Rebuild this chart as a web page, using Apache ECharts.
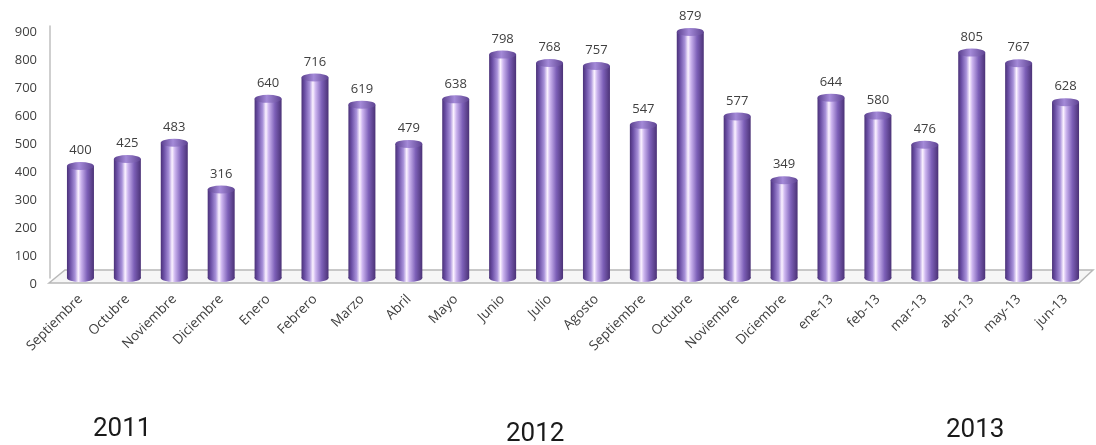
<!DOCTYPE html>
<html>
<head>
<meta charset="utf-8">
<script src="https://cdn.jsdelivr.net/npm/echarts@6/dist/echarts.min.js"></script>
<style>html,body{margin:0;padding:0;background:#fff;}#chart{width:1096px;height:445px;}</style>
</head>
<body>
<div id="chart"></div>
<script>
const categories = ['Septiembre','Octubre','Noviembre','Diciembre','Enero','Febrero','Marzo','Abril','Mayo','Junio','Julio','Agosto','Septiembre','Octubre','Noviembre','Diciembre','ene-13','feb-13','mar-13','abr-13','may-13','jun-13'];
const values = [400,425,483,316,640,716,619,479,638,798,768,757,547,879,577,349,644,580,476,805,767,628];
const yearLabels = ['2011','2012','2013'];
const yTicks = [0,100,200,300,400,500,600,700,800,900];

const chart = echarts.init(document.getElementById('chart'), null, {renderer:'canvas'});
const barGrad = new echarts.graphic.LinearGradient(0,0,1,0,[
  {offset:0, color:'#4a3178'},
  {offset:0.12, color:'#6c50a6'},
  {offset:0.3, color:'#a992da'},
  {offset:0.42, color:'#fbf2ff'},
  {offset:0.52, color:'#cdb6ef'},
  {offset:0.75, color:'#7d60b8'},
  {offset:1, color:'#4b3276'}
]);
const capGrad = new echarts.graphic.LinearGradient(0,0,1,0,[
  {offset:0, color:'#5a3f8e'},
  {offset:0.45, color:'#a48ad8'},
  {offset:1, color:'#5e4392'}
]);
const yearFont = '26px Roboto';

chart.setOption({
  animation:false,
  grid:{left:57, right:7, top:26, bottom:167, containLabel:false},
  xAxis:{
    type:'category', data:categories,
    axisLine:{show:false}, axisTick:{show:false},
    axisLabel:{rotate:45, margin:19, fontSize:13.5, color:'#404040', fontFamily:'Open Sans', interval:0}
  },
  yAxis:{
    type:'value', min:0, max:900, interval:100, offset:7,
    axisLine:{show:true, lineStyle:{color:'#bfbfbf', width:1.5}},
    axisTick:{show:false}, splitLine:{show:false},
    axisLabel:{margin:13, fontSize:13, color:'#404040', fontFamily:'Open Sans', verticalAlign:'top', lineHeight:13,
      formatter:function(v){return yTicks.indexOf(v)>=0 ? String(v) : '';}}
  },
  graphic:[
    {type:'text', left:93, top:416, style:{text:yearLabels[0], font:yearFont, fill:'#1a1a1a'}},
    {type:'text', left:506, top:421, style:{text:yearLabels[1], font:yearFont, fill:'#1a1a1a'}},
    {type:'text', left:946, top:417, style:{text:yearLabels[2], font:yearFont, fill:'#1a1a1a'}}
  ],
  series:[
    {
      type:'custom', z:1, clip:false, silent:true,
      data:[[0,0]],
      renderItem:function(params, api){
        const p0 = api.coord([0,0]);
        const bw = api.size([1,0])[0];
        const pN = api.coord([categories.length-1,0]);
        const xl = p0[0]-bw/2, xr = pN[0]+bw/2, y0 = p0[1];
        return {type:'polygon', shape:{points:[[xl-8,y0+5],[xl+8,y0-8],[xr+4,y0-8],[xr-10,y0+5]]},
          style:{fill:'#f6f6f6', stroke:'#b8b8b8', lineWidth:1.5}};
      }
    },
    {
      type:'bar', z:2, data:values, barWidth:27,
      itemStyle:{color:barGrad},
      label:{show:true, position:'top', distance:9, fontSize:13, color:'#404040', fontFamily:'Open Sans'}
    },
    {
      type:'pictorialBar', z:3, data:values, symbol:'circle', symbolSize:[27,8],
      symbolPosition:'start', symbolOffset:[0,'50%'], itemStyle:{color:barGrad}
    },
    {
      type:'pictorialBar', z:4, data:values, symbol:'circle', symbolSize:[27,8],
      symbolPosition:'end', symbolOffset:[0,'-50%'], itemStyle:{color:capGrad}
    }
  ]
});
</script>
</body>
</html>
